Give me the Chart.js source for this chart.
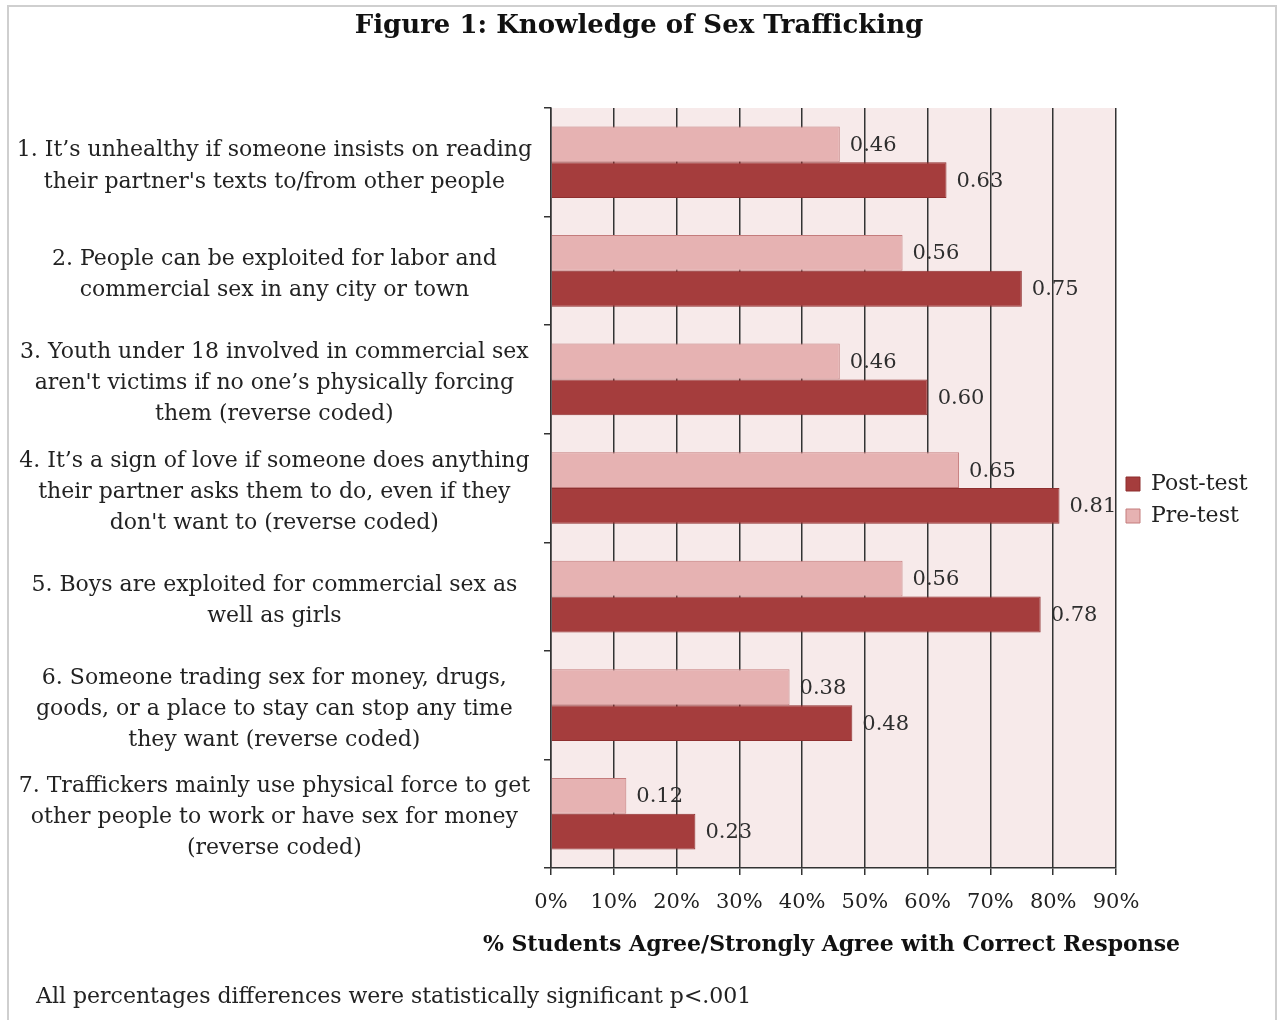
<!DOCTYPE html>
<html>
<head>
<meta charset="utf-8">
<title>Figure 1: Knowledge of Sex Trafficking</title>
<script src="https://cdn.jsdelivr.net/npm/chart.js@4.4.1/dist/chart.umd.min.js"></script>
<style>
  html, body { margin: 0; padding: 0; background: #ffffff; }
  #wrap { width: 1278px; height: 1020px; position: relative; }
  canvas { display: block; }
</style>
</head>
<body>
<div id="wrap"><canvas id="chart" width="1278" height="1020"></canvas></div>
<script>
// Survey statements (multi-line labels for the category axis)
const questions = [
  ["1. It’s unhealthy if someone insists on reading", "their partner's texts to/from other people"],
  ["2. People can be exploited for labor and", "commercial sex in any city or town"],
  ["3. Youth under 18 involved in commercial sex", "aren't victims if no one’s physically forcing", "them (reverse coded)"],
  ["4. It’s a sign of love if someone does anything", "their partner asks them to do, even if they", "don't want to (reverse coded)"],
  ["5. Boys are exploited for commercial sex as", "well as girls"],
  ["6. Someone trading sex for money, drugs,", "goods, or a place to stay can stop any time", "they want (reverse coded)"],
  ["7. Traffickers mainly use physical force to get", "other people to work or have sex for money", "(reverse coded)"]
];

// Share of students agreeing with the correct response
const preTest  = [0.46, 0.56, 0.46, 0.65, 0.56, 0.38, 0.12];
const postTest = [0.63, 0.75, 0.60, 0.81, 0.78, 0.48, 0.23];

const seriesNames = ["Pre-test", "Post-test"];
const percentTicks = ["0%", "10%", "20%", "30%", "40%", "50%", "60%", "70%", "80%", "90%"];

const titleText = "Figure 1: Knowledge of Sex Trafficking";
const axisTitleText = "% Students Agree/Strongly Agree with Correct Response";
const footnoteText = "All percentages differences were statistically significant p<.001";

const FONT = "'DejaVu Serif', 'Liberation Serif', serif";
Chart.defaults.font.family = FONT;
Chart.defaults.color = "#222222";

// Layout constants
const PAD = { left: 0, right: 0, top: 0, bottom: 20 };
const PLOT_LEFT = 551;
const PLOT_RIGHT = 1116;
const PLOT_BOTTOM = 868;

// Page frame, plot background
const backdrop = {
  id: "backdrop",
  beforeDraw(chart) {
    const { ctx, chartArea } = chart;
    ctx.save();
    ctx.fillStyle = "#ffffff";
    ctx.fillRect(0, 0, chart.width, chart.height);
    ctx.strokeStyle = "#cfcfcf";
    ctx.lineWidth = 2;
    ctx.beginPath();
    ctx.moveTo(8, chart.height);
    ctx.lineTo(8, 6);
    ctx.lineTo(1276, 6);
    ctx.lineTo(1276, chart.height);
    ctx.stroke();
    ctx.fillStyle = "#f7eaea";
    ctx.fillRect(chartArea.left, chartArea.top, chartArea.right - chartArea.left, chartArea.bottom - chartArea.top);
    ctx.restore();
  }
};

// Reserve a fixed-width column for the legend on the right
const legendColumn = {
  id: "legendColumn",
  beforeLayout(chart) {
    const lg = chart.legend;
    if (lg && !lg._fixedColumn) {
      const fit = lg.fit;
      lg.fit = function () {
        fit.call(this);
        this.width = chart.width - PAD.right - PLOT_RIGHT;
      };
      lg._fixedColumn = true;
    }
  }
};

// Value printed at the end of each bar
const valueLabels = {
  id: "valueLabels",
  afterDatasetsDraw(chart) {
    const ctx = chart.ctx;
    ctx.save();
    ctx.font = "21px " + FONT;
    ctx.fillStyle = "#2e2e2e";
    ctx.textAlign = "left";
    ctx.textBaseline = "middle";
    chart.data.datasets.forEach((ds, di) => {
      chart.getDatasetMeta(di).data.forEach((bar, i) => {
        ctx.fillText(ds.data[i].toFixed(2), bar.x + 10, bar.y + 1);
      });
    });
    ctx.restore();
  }
};

// Value-axis title (wider than the plot) and the significance note
const captions = {
  id: "captions",
  afterDraw(chart) {
    const { ctx, chartArea } = chart;
    ctx.save();
    ctx.textBaseline = "middle";
    ctx.fillStyle = "#111111";
    ctx.font = "bold 22px " + FONT;
    ctx.textAlign = "center";
    ctx.fillText(axisTitleText, (chartArea.left + chartArea.right) / 2 - 2, 945);
    ctx.fillStyle = "#222222";
    ctx.font = "22px " + FONT;
    ctx.textAlign = "left";
    ctx.fillText(footnoteText, 36, 997);
    ctx.restore();
  }
};

new Chart(document.getElementById("chart"), {
  type: "bar",
  data: {
    labels: questions,
    datasets: [
      {
        label: seriesNames[0],
        data: preTest,
        backgroundColor: "#e6b2b2",
        borderColor: "#c47c7c",
        borderWidth: 1
      },
      {
        label: seriesNames[1],
        data: postTest,
        backgroundColor: "#a53d3d",
        borderColor: "#8e2f2f",
        borderWidth: 1
      }
    ]
  },
  options: {
    indexAxis: "y",
    responsive: false,
    animation: false,
    devicePixelRatio: 1,
    layout: { padding: PAD },
    datasets: {
      bar: { categoryPercentage: 0.66, barPercentage: 1.0 }
    },
    scales: {
      x: {
        type: "linear",
        min: 0,
        max: 0.9,
        afterFit(scale) { scale.height = 1020 - PAD.bottom - PLOT_BOTTOM; },
        ticks: {
          stepSize: 0.1,
          padding: 15,
          color: "#222222",
          font: { size: 21 },
          callback: (value, index) => percentTicks[index]
        },
        grid: {
          color: "#333333",
          lineWidth: 1.5,
          drawOnChartArea: true,
          drawTicks: true,
          tickLength: 7
        },
        border: { display: true, color: "#333333", width: 1.5 },
        title: { display: false, text: axisTitleText }
      },
      y: {
        type: "category",
        afterFit(scale) { scale.width = PLOT_LEFT - PAD.left; },
        ticks: {
          autoSkip: false,
          crossAlign: "center",
          padding: 12,
          labelOffset: 4,
          color: "#222222",
          font: { size: 22, lineHeight: 1.41 }
        },
        grid: {
          color: "#333333",
          lineWidth: 1.5,
          drawOnChartArea: false,
          drawTicks: true,
          tickLength: 7
        },
        border: { display: true, color: "#333333", width: 1.5 }
      }
    },
    plugins: {
      title: {
        display: true,
        text: titleText,
        color: "#111111",
        font: { size: 26, weight: "bold" },
        padding: { top: 11, bottom: 65.8 }
      },
      legend: {
        position: "right",
        reverse: true,
        labels: {
          boxWidth: 14,
          boxHeight: 14,
          padding: 10,
          color: "#222222",
          font: { size: 22 }
        }
      },
      tooltip: { enabled: false }
    }
  },
  plugins: [backdrop, legendColumn, valueLabels, captions]
});
</script>
</body>
</html>
